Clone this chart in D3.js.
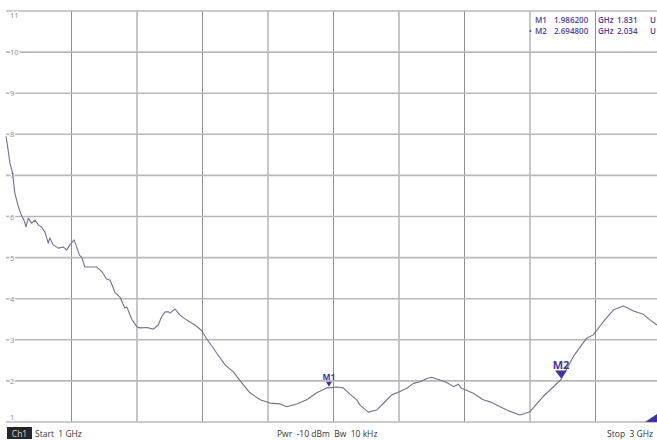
<!DOCTYPE html>
<html><head><meta charset="utf-8">
<script src="https://cdn.jsdelivr.net/npm/d3@7"></script>
<style>
html,body{margin:0;padding:0;background:#fff;}
svg{display:block;}
text{font-family:"Open Sans","Noto Sans",sans-serif;}
</style></head>
<body>
<svg id="chart" width="657" height="440"></svg>
<script>
// Data: frequency (GHz) and SWR (U)
const freqGHz = [1.000,1.003,1.012,1.020,1.027,1.038,1.048,1.055,1.061,1.068,1.078,1.089,1.099,1.109,1.119,1.129,1.134,1.144,1.160,1.175,1.185,1.195,1.208,1.216,1.224,1.231,1.241,1.256,1.277,1.287,1.296,1.307,1.318,1.333,1.348,1.363,1.369,1.384,1.399,1.409,1.430,1.450,1.465,1.475,1.486,1.496,1.501,1.516,1.531,1.552,1.577,1.598,1.613,1.633,1.643,1.669,1.694,1.720,1.745,1.776,1.806,1.837,1.857,1.888,1.918,1.949,1.979,1.986,2.010,2.030,2.050,2.071,2.081,2.106,2.132,2.152,2.178,2.203,2.224,2.244,2.264,2.285,2.300,2.325,2.346,2.366,2.381,2.391,2.427,2.457,2.478,2.529,2.569,2.600,2.640,2.695,2.732,2.773,2.793,2.824,2.855,2.885,2.916,2.946,2.967,2.988,3.000];
const swr = [7.95,7.81,7.30,7.06,6.57,6.23,6.01,5.91,5.75,5.96,5.84,5.91,5.79,5.74,5.62,5.35,5.48,5.31,5.23,5.26,5.18,5.31,5.43,5.26,5.06,5.01,4.77,4.77,4.77,4.70,4.62,4.48,4.45,4.15,4.04,3.77,3.80,3.50,3.32,3.29,3.30,3.26,3.36,3.56,3.68,3.68,3.65,3.75,3.60,3.48,3.36,3.22,3.02,2.80,2.68,2.39,2.22,1.95,1.71,1.54,1.46,1.44,1.37,1.44,1.54,1.71,1.83,1.831,1.85,1.83,1.68,1.54,1.41,1.24,1.29,1.45,1.66,1.74,1.82,1.94,1.98,2.06,2.09,2.02,1.96,1.86,1.92,1.82,1.70,1.54,1.49,1.29,1.17,1.25,1.62,2.034,2.59,3.04,3.12,3.44,3.73,3.82,3.70,3.62,3.48,3.36,3.30];
const yTickLabels = ["1","2","3","4","5","6","7","8","9","10","11"];
const markerNames = ["M1","M2"];
const markerFreq = [1.9862, 2.6948];
const markerSwr = [1.831, 2.034];
const markerFreqText = ["1.986200","2.694800"];
const markerValText = ["1.831","2.034"];
const footerTexts = ["Start  1 GHz","Pwr  -10 dBm  Bw  10 kHz","Stop  3 GHz"];

const svg = d3.select("#chart");
const W = 657, H = 440;
const x = d3.scaleLinear().domain([1,3]).range([6,661]);
const y = d3.scaleLinear().domain([1,11]).range([422,11]);

svg.append("rect").attr("width",W).attr("height",H).attr("fill","#fff");

// grid
const gx = d3.range(0,11).map(i=>1+i*0.2);
svg.append("g").selectAll("line").data(gx.slice(1)).join("line")
  .attr("x1",d=>x(d)).attr("x2",d=>x(d)).attr("y1",y(11)).attr("y2",y(1))
  .attr("stroke","#8f8f8f").attr("stroke-width",1);
svg.append("g").selectAll("line").data(d3.range(1,12)).join("line")
  .attr("x1",x(1)).attr("x2",W).attr("y1",d=>y(d)).attr("y2",d=>y(d))
  .attr("stroke","#b8b8b8").attr("stroke-width",1.6);

// y labels
svg.append("g").selectAll("text").data(yTickLabels).join("text")
  .attr("x",10)
  .attr("y",(d)=>{const v=+d; if(v===11) return y(v)+7; if(v===1) return y(v)-2; return y(v)+3;})
  .attr("font-size",7.5).attr("fill","#8a8a8a")
  .attr("stroke","#fff").attr("stroke-width",2.5).attr("paint-order","stroke")
  .text(d=>d);

// trace
const pts = freqGHz.map((f,i)=>[f,swr[i]]);
svg.append("defs").append("clipPath").attr("id","clip").append("rect")
  .attr("x",0).attr("y",0).attr("width",W).attr("height",H);
svg.append("path").datum(pts)
  .attr("clip-path","url(#clip)")
  .attr("fill","none").attr("stroke","#74718f").attr("stroke-width",1.1)
  .attr("stroke-linejoin","round")
  .attr("d",d3.line().x(d=>x(d[0])).y(d=>y(d[1])));

// markers
const mcol = "#3d36a0";
markerNames.forEach((m,i)=>{
  const mx = x(markerFreq[i]), my = y(markerSwr[i]);
  const big = i===1;
  const tw = big?6:3, th = big?8:5;
  svg.append("path")
    .attr("d",`M${mx-tw},${my-th-1} L${mx+tw},${my-th-1} L${mx},${my-1} Z`)
    .attr("fill",mcol);
  svg.append("text").attr("x",mx).attr("y",my-th-3)
    .attr("text-anchor","middle").attr("font-size",big?11:8.5)
    .attr("font-weight","bold").attr("fill",mcol).text(m);
});

// marker table
const tbl = svg.append("g").attr("font-size",8).attr("font-weight",600).attr("fill","#4a40a0");
markerNames.forEach((m,i)=>{
  const ty = 23 + i*11;
  tbl.append("text").attr("x",535).attr("y",ty).text(m);
  tbl.append("text").attr("x",554).attr("y",ty).text(markerFreqText[i]);
  tbl.append("text").attr("x",598).attr("y",ty).text("GHz");
  tbl.append("text").attr("x",617).attr("y",ty).text(markerValText[i]);
  tbl.append("text").attr("x",650).attr("y",ty).text("U");
});
tbl.append("text").attr("x",529).attr("y",34).text("•").attr("font-size",7);

// bottom right indicator
svg.append("path").attr("d","M645,422 L657,414 L657,422 Z").attr("fill","#3d36a0");

// footer
svg.append("rect").attr("x",7).attr("y",427).attr("width",25).attr("height",12).attr("fill","#262626");
svg.append("text").attr("x",19.5).attr("y",436.5).attr("text-anchor","middle")
  .attr("font-size",8.5).attr("fill","#d8d8d8").text("Ch1");
svg.append("text").attr("x",35).attr("y",436.5).attr("font-size",8.5).attr("fill","#333")
  .style("white-space","pre").text(footerTexts[0]);
svg.append("text").attr("x",277).attr("y",436.5).attr("font-size",8.5).attr("fill","#333")
  .style("white-space","pre").text(footerTexts[1]);
svg.append("text").attr("x",653).attr("y",436.5).attr("text-anchor","end").attr("font-size",8.5).attr("fill","#333")
  .style("white-space","pre").text(footerTexts[2]);
</script>
</body></html>
